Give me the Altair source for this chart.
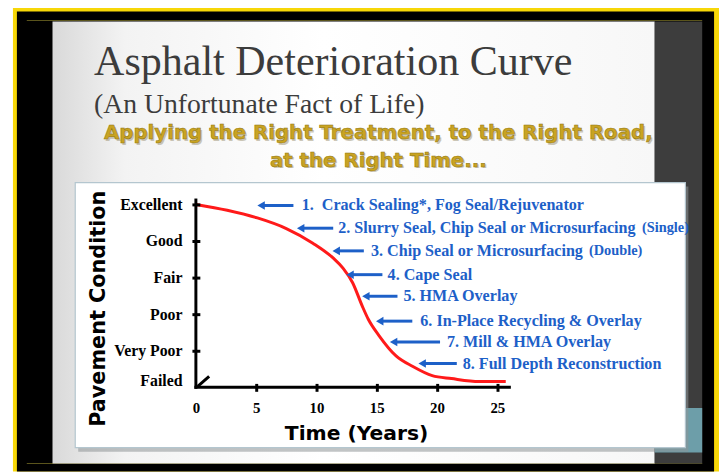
import json
import altair as alt
import pandas as pd

# ---------------- data ----------------
YEARS = [0, 2.6, 5.1, 7.5, 9.7, 11.4, 12.2, 13.0, 13.8, 14.3, 15.2, 16.6, 18.0, 19.6, 21.2, 23.5, 25.7]
CONDITION = [5.0, 4.84, 4.63, 4.34, 3.94, 3.53, 3.26, 2.86, 2.22, 1.86, 1.41, 0.86, 0.57, 0.32, 0.24, 0.16, 0.16]

CONDITION_LEVELS = ["Failed", "Very Poor", "Poor", "Fair", "Good", "Excellent"]
LEVEL_VALUES = [0, 1, 2, 3, 4, 5]
YEAR_TICKS = [0, 5, 10, 15, 20, 25]

TREATMENTS = [
    "1.\u00a0 Crack Sealing*, Fog Seal/Rejuvenator",
    "2. Slurry Seal, Chip Seal or Microsurfacing",
    "3. Chip Seal or Microsurfacing",
    "4. Cape Seal",
    "5. HMA Overlay",
    "6. In-Place Recycling & Overlay",
    "7. Mill & HMA Overlay",
    "8. Full Depth Reconstruction",
]
ARROW_TIP = [5.08, 8.36, 11.31, 12.46, 13.77, 14.92, 16.07, 18.44]
ARROW_TAIL = [8.09, 11.39, 13.93, 15.47, 16.72, 17.95, 20.25, 21.64]
ARROW_Y = [4.97, 4.35, 3.73, 3.08, 2.49, 1.81, 1.24, 0.65]
LABEL_X = [8.77, 11.8, 14.52, 15.9, 17.21, 18.61, 20.82, 22.13]

NOTES = ["(Single)", "(Double)"]
NOTE_X = [37.0, 32.6]
NOTE_Y = [4.35, 3.73]

X_AXIS_END = 26
Y_AXIS_END = 5.12
BREAK_X = [0.15, 1.1]
BREAK_Y = [0.03, 0.3]

# ---------------- tables ----------------
curve_df = pd.DataFrame({"year": YEARS, "condition": CONDITION})
arrows_df = pd.DataFrame({"tip": ARROW_TIP, "tail": ARROW_TAIL, "y": ARROW_Y,
                          "label_x": LABEL_X, "label": TREATMENTS})
notes_df = pd.DataFrame({"x": NOTE_X, "y": NOTE_Y, "note": NOTES})
xaxis_df = pd.DataFrame({"x": [0], "x2": [X_AXIS_END], "y": [0]})
yaxis_df = pd.DataFrame({"x": [0], "y": [0], "y2": [Y_AXIS_END]})
break_df = pd.DataFrame({"x": BREAK_X, "y": BREAK_Y})

W, H = 317, 185
X_SCALE = alt.Scale(domain=[0, 26], nice=False, zero=False)
Y_SCALE = alt.Scale(domain=[0, 5], nice=False, zero=False)

BLUE = "#1d60c8"
RED = "#ff1a1a"
ONE = alt.Data(values=[{"k": 0}])


def deco_rect(x, x2, y, y2, color, **kw):
    return alt.Chart(ONE).mark_rect(color=color, **kw).encode(
        x=alt.value(x), x2=alt.value(x2), y=alt.value(y), y2=alt.value(y2))


def deco_text(x, y, text, **kw):
    return alt.Chart(ONE).mark_text(text=text, **kw).encode(
        x=alt.value(x), y=alt.value(y))


def xq(field):
    return alt.X(field, type="quantitative", scale=X_SCALE, axis=None)


def yq(field):
    return alt.Y(field, type="quantitative", scale=Y_SCALE, axis=None)


slide_grad = alt.LinearGradient(
    gradient="linear", x1=0, x2=1, y1=0, y2=0,
    stops=[alt.GradientStop(color="#d9d9d9", offset=0),
           alt.GradientStop(color="#f3f3f3", offset=0.12),
           alt.GradientStop(color="#ffffff", offset=0.45),
           alt.GradientStop(color="#f7f7f7", offset=1)])

decor = [
    deco_rect(-185, 529, -201, 270, "#f7d708"),
    deco_rect(-181, 524, -195, 270, "#000000"),
    deco_rect(-171, 512, -186.5, -185.5, "#5a541c"),
    deco_rect(-171, 512, 261.5, 262.5, "#5a541c"),
    deco_rect(-145, 464, -185, 262, "#ffffff").mark_rect(color=slide_grad),
    deco_rect(464, 512, -185, 262, "#3d3d3d"),
    deco_rect(464, 512, 206, 251, "#6d9ea9"),
    deco_rect(-119, 498, -18, 250, "#8e9496", opacity=0.55),
    deco_rect(-122, 495, -22, 246, "#ffffff", stroke="#b4c6cf", strokeWidth=1.2),
]

titles = [
    deco_text(-103, -131, "Asphalt Deterioration Curve", font="Liberation Serif",
              fontSize=42.5, color="#3c3c3c", align="left", baseline="alphabetic"),
    deco_text(-103, -92, "(An Unfortunate Fact of Life)", font="Liberation Serif",
              fontSize=28, color="#3c3c3c", align="left", baseline="alphabetic"),
]
for txt, yy in [("Applying the Right Treatment, to the Right Road,", -66),
                ("at the Right Time...", -38)]:
    titles.append(deco_text(186, yy + 1.5, txt, font="DejaVu Sans", fontWeight="bold",
                            fontSize=20, color="#9c9274", opacity=0.5,
                            align="center", baseline="alphabetic"))
    titles.append(deco_text(184.5, yy, txt, font="DejaVu Sans", fontWeight="bold",
                            fontSize=20, color="#c9a322", stroke="#8f7512",
                            strokeWidth=0.5, align="center", baseline="alphabetic"))

cond_expr = json.dumps(CONDITION_LEVELS) + "[datum.value]"

x_axis = alt.Axis(
    values=YEAR_TICKS, title="Time (Years)", domain=False, grid=False,
    tickSize=8, tickWidth=3, tickColor="black",
    tickOpacity={"condition": {"test": "datum.value == 0", "value": 0}, "value": 1},
    offset=-4, labelFont="Liberation Serif", labelFontWeight="bold",
    labelFontSize=15, labelColor="black", labelPadding=9, labelFlush=False,
    labelOverlap=False, titleFont="DejaVu Sans", titleFontWeight="bold",
    titleFontSize=20.5, titleColor="black", titleX=162, titleY=57,
    titleAlign="center", titleBaseline="alphabetic", zindex=1)

y_axis = alt.Axis(
    values=LEVEL_VALUES, labelExpr=cond_expr, title="Pavement Condition",
    domain=False, grid=False, tickSize=8, tickWidth=3, tickColor="black",
    tickOpacity={"condition": {"test": "datum.value == 0", "value": 0}, "value": 1},
    labelOffset={"condition": {"test": "datum.value == 0", "value": -7}, "value": 0},
    offset=-4, labelFont="Liberation Serif", labelFontWeight="bold",
    labelFontSize=16, labelColor="black", labelPadding=10, labelOverlap=False,
    labelBound=False, titleFont="DejaVu Sans", titleFontWeight="bold", titleFontSize=21,
    titleColor="black", titleAngle=270, titleX=-102, titleY=105,
    titleAlign="center", titleBaseline="middle", zindex=1)

curve = alt.Chart(curve_df).mark_line(color=RED, strokeWidth=3, interpolate="monotone").encode(
    x=alt.X("year:Q", scale=X_SCALE, axis=x_axis),
    y=alt.Y("condition:Q", scale=Y_SCALE, axis=y_axis),
)

x_line = alt.Chart(xaxis_df).mark_rule(color="black", strokeWidth=3, strokeCap="square").encode(
    x=xq("x"), x2="x2:Q", y=yq("y"))
y_line = alt.Chart(yaxis_df).mark_rule(color="black", strokeWidth=3, strokeCap="square").encode(
    x=xq("x"), y=yq("y"), y2="y2:Q")
brk = alt.Chart(break_df).mark_line(color="black", strokeWidth=3).encode(
    x=xq("x"), y=yq("y"))

shafts = alt.Chart(arrows_df).mark_rule(color=BLUE, strokeWidth=3, xOffset=6).encode(
    x=xq("tip"), x2="tail:Q", y=yq("y"))
heads = alt.Chart(arrows_df).mark_point(shape="triangle-left", filled=True, size=75,
                                        color=BLUE, opacity=1, xOffset=4).encode(
    x=xq("tip"), y=yq("y"))
labels = alt.Chart(arrows_df).mark_text(font="Liberation Serif", fontWeight="bold",
                                        fontSize=16.3, color=BLUE, align="left",
                                        baseline="middle").encode(
    x=xq("label_x"), y=yq("y"), text="label:N")
notes = alt.Chart(notes_df).mark_text(font="Liberation Serif", fontWeight="bold",
                                      fontSize=14.5, color=BLUE, align="left",
                                      baseline="middle").encode(
    x=xq("x"), y=yq("y"), text="note:N")

chart = alt.layer(
    *decor, *titles, curve, x_line, y_line, brk, shafts, heads, labels, notes
).resolve_axis(
    x="independent", y="independent"
).properties(
    width=W, height=H,
    padding={"left": 190, "top": 196, "right": 213, "bottom": 85},
    autosize=alt.AutoSizeParams(type="none"),
    background="#ffffff",
).configure_view(stroke=None)

chart.save("out.html", embed_options={"renderer": "svg", "actions": False})
